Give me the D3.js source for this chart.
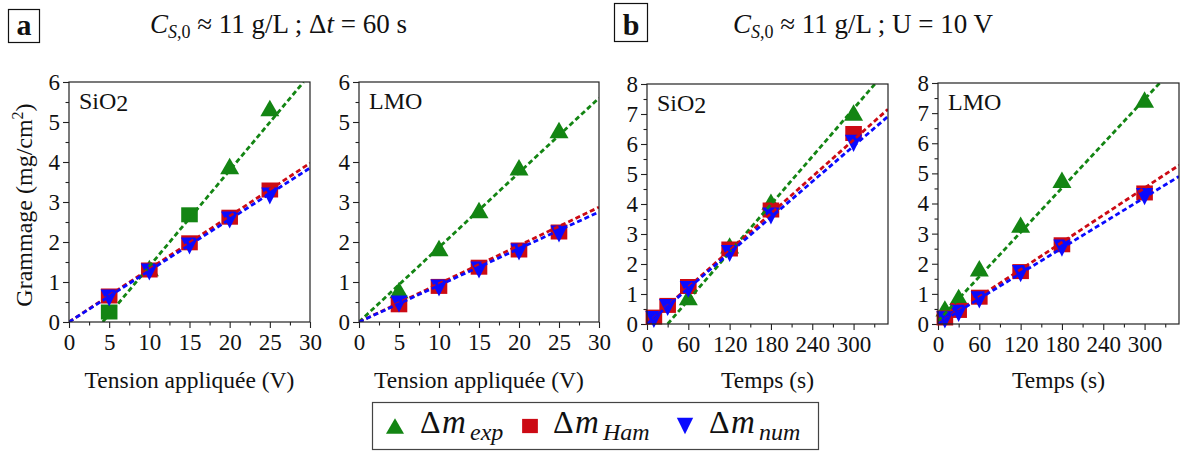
<!DOCTYPE html>
<html><head><meta charset="utf-8">
<script src="https://cdn.jsdelivr.net/npm/d3@7"></script>
<style>body{margin:0;background:#fff} svg{display:block}</style>
</head><body><svg id="c" width="1188" height="451"></svg>
<script>
// ---------------- data ----------------
const voltage = [5, 10, 15, 20, 25];
const time = [10, 30, 60, 120, 180, 300];

const sio2V_exp = [0.25, 1.35, 2.68, 3.9, 5.35];
const sio2V_expShape = ["square", "triangle", "square", "triangle", "triangle"];
const sio2V_ham = [0.65, 1.3, 1.98, 2.62, 3.3];
const sio2V_num = [0.6, 1.25, 1.9, 2.55, 3.15];

const lmoV_exp = [0.8, 1.85, 2.8, 3.87, 4.8];
const lmoV_ham = [0.43, 0.89, 1.37, 1.8, 2.25];
const lmoV_num = [0.45, 0.85, 1.3, 1.75, 2.2];

const sio2T_exp = [null, null, 0.9, 2.62, 4.08, 7.05];
const sio2T_ham = [0.23, 0.62, 1.25, 2.5, 3.8, 6.35];
const sio2T_num = [0.15, 0.55, 1.15, 2.35, 3.6, 6.02];

const lmoT_exp = [0.52, 0.9, 1.85, 3.3, 4.79, 7.45];
const lmoT_ham = [0.2, 0.45, 0.89, 1.74, 2.63, 4.35];
const lmoT_num = [0.14, 0.35, 0.8, 1.67, 2.52, 4.23];

// fitted lines (endpoints)
const sio2V_fitExp = [[4.2, 0], [29.2, 6]];
const sio2V_fitHam = [[0, 0], [30, 3.97]];
const sio2V_fitNum = [[0, 0], [30, 3.85]];
const lmoV_fitExp = [[0, 0], [30, 5.6]];
const lmoV_fitHam = [[0, 0], [30, 2.87]];
const lmoV_fitNum = [[0, 0], [30, 2.75]];
const sio2T_fitExp = [[30, 0], [331, 8]];
const sio2T_fitHam = [[0, 0], [350, 7.16]];
const sio2T_fitNum = [[0, 0], [350, 6.92]];
const lmoT_fitExp = [[0, 0.1], [322, 8]];
const lmoT_fitHam = [[0, 0], [350, 5.27]];
const lmoT_fitNum = [[0, 0], [350, 4.9]];

const voltTicks = [0, 5, 10, 15, 20, 25, 30];
const voltMinor = [2.5, 7.5, 12.5, 17.5, 22.5, 27.5];
const timeTicks = [0, 60, 120, 180, 240, 300];
const timeMinor = [30, 90, 150, 210, 270, 330];
const gramTicks6 = [0, 1, 2, 3, 4, 5, 6];
const gramMinor6 = [0.5, 1.5, 2.5, 3.5, 4.5, 5.5];
const gramTicks8 = [0, 1, 2, 3, 4, 5, 6, 7, 8];
const gramMinor8 = [0.5, 1.5, 2.5, 3.5, 4.5, 5.5, 6.5, 7.5];

const seriesNames = ["exp", "Ham", "num"];
const xTitleV = "Tension appliquée (V)";
const xTitleT = "Temps (s)";

// ---------------- layout / style ----------------
const COL = {exp: "#138513", Ham: "#cc0a14", num: "#0a0aff"};
const FONT = "'Liberation Serif','Times New Roman',serif";

const panels = [
  {label: "SiO", sub: "2", x: voltage, exp: sio2V_exp, expShape: sio2V_expShape, Ham: sio2V_ham, num: sio2V_num,
   fits: {exp: sio2V_fitExp, Ham: sio2V_fitHam, num: sio2V_fitNum},
   xd: [0, 30], yd: [0, 6], xt: voltTicks, xm: voltMinor, yt: gramTicks6, ym: gramMinor6, xtitle: xTitleV,
   L: 69, R: 310, T: 82, B: 322},
  {label: "LMO", sub: "", x: voltage, exp: lmoV_exp, Ham: lmoV_ham, num: lmoV_num,
   fits: {exp: lmoV_fitExp, Ham: lmoV_fitHam, num: lmoV_fitNum},
   xd: [0, 30], yd: [0, 6], xt: voltTicks, xm: voltMinor, yt: gramTicks6, ym: gramMinor6, xtitle: xTitleV,
   L: 359, R: 599, T: 82, B: 322},
  {label: "SiO", sub: "2", x: time, exp: sio2T_exp, Ham: sio2T_ham, num: sio2T_num,
   fits: {exp: sio2T_fitExp, Ham: sio2T_fitHam, num: sio2T_fitNum},
   xd: [0, 350], yd: [0, 8], xt: timeTicks, xm: timeMinor, yt: gramTicks8, ym: gramMinor8, xtitle: xTitleT,
   L: 647, R: 888, T: 84, B: 324},
  {label: "LMO", sub: "", x: time, exp: lmoT_exp, Ham: lmoT_ham, num: lmoT_num,
   fits: {exp: lmoT_fitExp, Ham: lmoT_fitHam, num: lmoT_fitNum},
   xd: [0, 350], yd: [0, 8], xt: timeTicks, xm: timeMinor, yt: gramTicks8, ym: gramMinor8, xtitle: xTitleT,
   L: 938, R: 1179, T: 83, B: 324}
];

const svg = d3.select("#c");
svg.append("rect").attr("width", 1188).attr("height", 451).attr("fill", "#fff");

function markerPath(shape, k) {
  k = k || 1;
  if (shape === "square") { const w = 8.3 * k, h = 7.5 * k; return `M${-w},${-h}H${w}V${h}H${-w}Z`; }
  if (shape === "triangle") { const w = 9.5 * k, h = 8.2 * k; return `M0,${-h}L${w},${h}L${-w},${h}Z`; }
  if (shape === "tdown") { const w = 8.6 * k, h = 8.6 * k; return `M0,${h}L${w},${-h}L${-w},${-h}Z`; }
}

panels.forEach((p, i) => {
  const x = d3.scaleLinear().domain(p.xd).range([p.L, p.R]);
  const y = d3.scaleLinear().domain(p.yd).range([p.B, p.T]);
  const g = svg.append("g");
  const clipId = "clip" + i;
  svg.append("clipPath").attr("id", clipId).append("rect")
    .attr("x", p.L).attr("y", p.T).attr("width", p.R - p.L).attr("height", p.B - p.T);

  const axStyle = sel => {
    sel.select(".domain").remove();
    sel.selectAll("line").attr("stroke", "#222").attr("stroke-width", 1.1);
    sel.selectAll("text").attr("font-family", FONT).attr("font-size", 23).attr("fill", "#111");
  };
  g.append("g").attr("transform", `translate(0,${p.B})`)
    .call(d3.axisBottom(x).tickValues(p.xt).tickSize(6).tickPadding(6).tickFormat(d3.format("d"))).call(axStyle);
  g.append("g").attr("transform", `translate(0,${p.B})`)
    .call(d3.axisBottom(x).tickValues(p.xm).tickSize(3.5).tickFormat("")).call(axStyle);
  g.append("g").attr("transform", `translate(${p.L},0)`)
    .call(d3.axisLeft(y).tickValues(p.yt).tickSize(6).tickPadding(3).tickFormat(d3.format("d"))).call(axStyle);
  g.append("g").attr("transform", `translate(${p.L},0)`)
    .call(d3.axisLeft(y).tickValues(p.ym).tickSize(3.5).tickFormat("")).call(axStyle);

  seriesNames.forEach(s => {
    const vals = p[s];
    const pts = p.x.map((xv, k) => ({x: xv, y: vals[k], k})).filter(d => d.y != null);
    g.append("g").selectAll("path").data(pts).enter().append("path")
      .attr("transform", d => `translate(${x(d.x)},${y(d.y)})`)
      .attr("d", d => markerPath(s === "exp" ? (p.expShape ? p.expShape[d.k] : "triangle") : (s === "Ham" ? "square" : "tdown")))
      .attr("fill", COL[s]);
  });
  const line = d3.line().x(d => x(d[0])).y(d => y(d[1]));
  seriesNames.forEach(s => {
    g.append("path").attr("clip-path", `url(#${clipId})`)
      .attr("d", line(p.fits[s])).attr("fill", "none").attr("stroke", COL[s])
      .attr("stroke-width", 2.8).attr("stroke-dasharray", "5,3");
  });

  g.append("rect").attr("x", p.L).attr("y", p.T).attr("width", p.R - p.L).attr("height", p.B - p.T)
    .attr("fill", "none").attr("stroke", "#222").attr("stroke-width", 1.2);

  const t = g.append("text").attr("x", p.L + 10).attr("y", p.T + 27).attr("font-family", FONT)
    .attr("font-size", 24).attr("fill", "#111").text(p.label);
  if (p.sub) t.append("tspan").attr("dy", 2).text(p.sub);

  g.append("text").attr("x", (p.L + p.R) / 2).attr("y", 388).attr("text-anchor", "middle")
    .attr("font-family", FONT).attr("font-size", 23.5).attr("fill", "#111").text(p.xtitle);
});

const yt = svg.append("text").attr("transform", "translate(32,205) rotate(-90)").attr("text-anchor", "middle")
  .attr("font-family", FONT).attr("font-size", 24).attr("fill", "#111");
yt.append("tspan").text("Grammage (mg/cm");
yt.append("tspan").attr("dy", -9).attr("font-size", 16).text("2");
yt.append("tspan").attr("dy", 9).text(")");

function boxLetter(x0, y0, w, h, letter, bx) {
  svg.append("rect").attr("x", x0).attr("y", y0).attr("width", w).attr("height", h)
    .attr("fill", "none").attr("stroke", "#111").attr("stroke-width", 1.2);
  svg.append("text").attr("x", x0 + w / 2).attr("y", bx).attr("text-anchor", "middle")
    .attr("font-family", FONT).attr("font-weight", "bold").attr("font-size", 30).attr("fill", "#111").text(letter);
}
boxLetter(8.5, 9.5, 31, 33, "a", 35);
boxLetter(614.5, 3.5, 33, 38, "b", 35);

function title(x0, rest) {
  const t = svg.append("text").attr("x", x0).attr("y", 33).attr("font-family", FONT).attr("font-size", 27).attr("fill", "#111");
  t.append("tspan").attr("font-style", "italic").text("C");
  t.append("tspan").attr("dy", 5).attr("font-size", 18).attr("font-style", "italic").text("S");
  t.append("tspan").attr("font-size", 18).text(",0");
  t.append("tspan").attr("dy", -5).text(" ≈ 11 g/L ; ");
  rest(t);
}
title(150, t => { t.append("tspan").text("Δ"); t.append("tspan").attr("font-style", "italic").text("t"); t.append("tspan").text(" = 60 s"); });
title(733, t => { t.append("tspan").text("U = 10 V"); });

const leg = svg.append("g");
leg.append("rect").attr("x", 372.5).attr("y", 402.5).attr("width", 446).attr("height", 47)
  .attr("fill", "#fff").attr("stroke", "#444").attr("stroke-width", 1.2);
const legItems = [
  {s: "exp", shape: "triangle", mx: 395, tx: 420, sub: "exp"},
  {s: "Ham", shape: "square", mx: 530, tx: 553, sub: "Ham"},
  {s: "num", shape: "tdown", mx: 685, tx: 709, sub: "num"}
];
legItems.forEach(it => {
  leg.append("path").attr("transform", `translate(${it.mx},426)`).attr("d", markerPath(it.shape, 0.95)).attr("fill", COL[it.s]);
  leg.append("text").attr("x", it.tx).attr("y", 433).attr("font-family", FONT).attr("font-size", 32)
    .attr("fill", "#111").text("Δ");
  leg.append("text").attr("x", it.tx + 22).attr("y", 433).attr("font-family", FONT).attr("font-size", 33)
    .attr("font-style", "italic").attr("fill", "#111").text("m");
  leg.append("text").attr("x", it.tx + 50).attr("y", 440).attr("font-family", FONT).attr("font-size", 24)
    .attr("font-style", "italic").attr("fill", "#111").text(it.sub);
});
</script></body></html>
